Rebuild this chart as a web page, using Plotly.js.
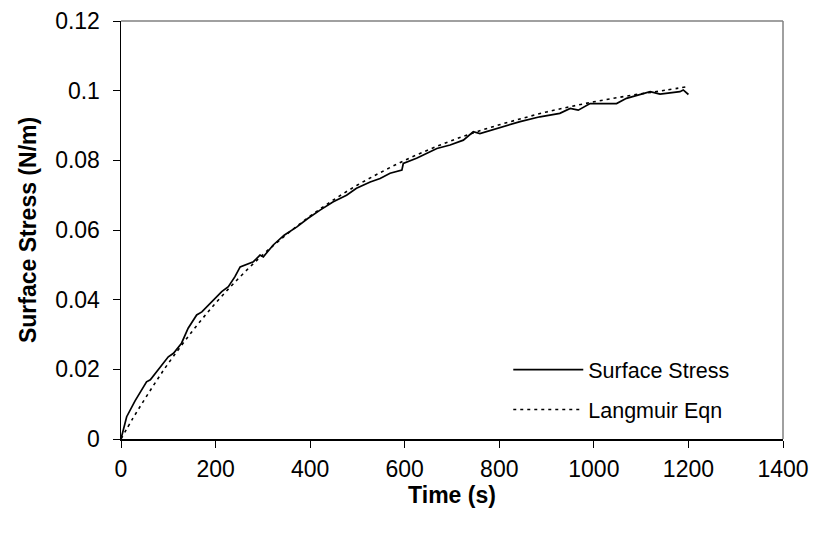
<!DOCTYPE html>
<html>
<head>
<meta charset="utf-8">
<script src="https://cdn.plot.ly/plotly-3.0.1.min.js"></script>
<style>html,body{margin:0;padding:0;background:#fff;}#chart{width:815px;height:540px;}</style>
</head>
<body>
<div id="chart"></div>
<script>
// Measured surface stress (N/m) vs time (s)
const stressTime = [0, 5, 12, 30, 54, 62, 75, 100, 111, 128, 142, 160, 171, 195, 213, 227, 241, 252, 265, 280, 294, 301, 322, 345, 372, 395, 421, 449, 477, 498, 527, 548, 569, 594, 597, 625, 668, 696, 724, 745, 759, 795, 816, 844, 886, 928, 950, 967, 992, 1048, 1069, 1091, 1119, 1140, 1182, 1189, 1200];
const stressValue = [0, 0.0030, 0.0064, 0.0110, 0.0164, 0.0170, 0.0193, 0.0236, 0.0246, 0.0275, 0.0318, 0.0356, 0.0365, 0.0399, 0.0423, 0.0437, 0.0466, 0.0494, 0.0500, 0.0509, 0.0528, 0.0523, 0.0557, 0.0585, 0.0609, 0.0633, 0.0657, 0.0681, 0.0700, 0.0720, 0.0738, 0.0748, 0.0763, 0.0772, 0.0791, 0.0806, 0.0834, 0.0844, 0.0858, 0.0882, 0.0877, 0.0892, 0.0901, 0.0911, 0.0925, 0.0935, 0.0949, 0.0944, 0.0963, 0.0963, 0.0978, 0.0987, 0.0997, 0.0990, 0.0997, 0.1002, 0.0989];

// Langmuir equation fit
const langTime = [0, 25, 50, 75, 100, 150, 200, 250, 300, 350, 400, 450, 500, 550, 600, 650, 700, 750, 800, 850, 900, 950, 1000, 1050, 1100, 1150, 1200];
const langValue = [0, 0.0059, 0.0114, 0.0167, 0.0217, 0.0308, 0.0390, 0.0463, 0.0529, 0.0587, 0.0640, 0.0687, 0.0729, 0.0766, 0.0800, 0.0830, 0.0857, 0.0881, 0.0902, 0.0921, 0.0939, 0.0954, 0.0968, 0.0980, 0.0991, 0.1001, 0.1012];

const seriesNames = ['Surface Stress', 'Langmuir Eqn'];
const xTitle = 'Time (s)';
const yTitle = 'Surface Stress (N/m)';

const font = 'Arial, "Liberation Sans", sans-serif';

const traces = [
  {x: stressTime, y: stressValue, name: seriesNames[0], type: 'scatter', mode: 'lines', legendgroup: 'a',
   line: {color: '#000', width: 1.7}},
  {x: langTime, y: langValue, name: seriesNames[1], type: 'scatter', mode: 'lines', legendgroup: 'b',
   line: {color: '#000', width: 1.6, dash: '3px,4px', shape: 'spline'}}
];

const layout = {
  width: 815, height: 540,
  margin: {l: 121, r: 32, t: 21, b: 101},
  paper_bgcolor: '#fff', plot_bgcolor: '#fff',
  font: {family: font, size: 23, color: '#000'},
  showlegend: true,
  legend: {x: 0.585, y: 0.215, xanchor: 'left', yanchor: 'top', bgcolor: 'rgba(0,0,0,0)',
    traceorder: 'grouped', tracegroupgap: 9,
    font: {family: font, size: 21.5, color: '#000'}, itemwidth: 70},
  xaxis: {range: [0, 1400], dtick: 200, tick0: 0, ticks: 'outside', ticklen: 7, tickwidth: 1,
    tickcolor: '#000', showline: true, linecolor: '#000', linewidth: 1.5, showgrid: false,
    zeroline: false, tickfont: {family: font, size: 23, color: '#000'}, ticklabelstandoff: 2,
    title: {text: '<b>' + xTitle + '</b>', font: {family: font, size: 23, color: '#000'}, standoff: 5}},
  yaxis: {range: [0, 0.12], dtick: 0.02, tick0: 0, ticks: 'outside', ticklen: 7, tickwidth: 1,
    tickcolor: '#000', showline: true, linecolor: '#000', linewidth: 1.5, showgrid: false,
    zeroline: false, tickfont: {family: font, size: 23, color: '#000'}, ticklabelstandoff: 8,
    title: {text: '<b>' + yTitle + '</b>', font: {family: font, size: 23, color: '#000'}, standoff: 12}},
  shapes: [
    {type: 'line', xref: 'paper', yref: 'paper', x0: 0, x1: 1, y0: 1, y1: 1, line: {color: '#808080', width: 1.5}},
    {type: 'line', xref: 'paper', yref: 'paper', x0: 1, x1: 1, y0: 0, y1: 1, line: {color: '#808080', width: 1.5}}
  ]
};

Plotly.newPlot('chart', traces, layout, {displayModeBar: false, staticPlot: true});
</script>
</body>
</html>
